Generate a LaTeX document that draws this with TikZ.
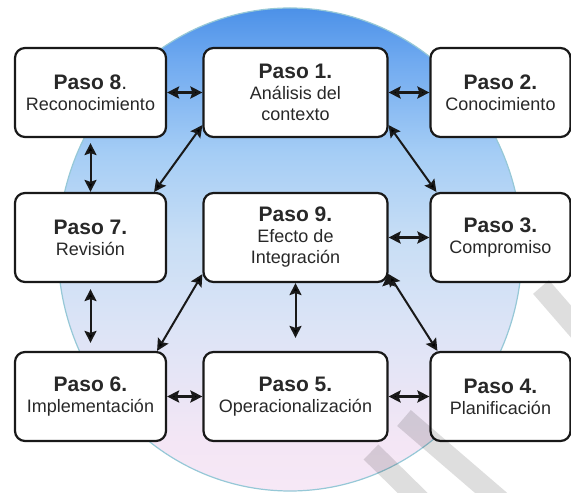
\documentclass[tikz,border=0pt]{standalone}
\usepackage{fontspec}
\setmainfont{Liberation Sans}
\usetikzlibrary{arrows.meta,positioning}

\definecolor{cieloA}{RGB}{76,145,232}
\definecolor{celesteA}{RGB}{112,170,240}
\definecolor{celesteB}{RGB}{165,205,245}
\definecolor{celesteC}{RGB}{200,222,245}
\definecolor{lilaA}{RGB}{220,228,246}
\definecolor{rosaA}{RGB}{244,230,245}
\definecolor{rosaB}{RGB}{246,232,246}
\definecolor{borde}{RGB}{25,25,25}
\definecolor{texto}{RGB}{40,40,40}
\definecolor{aro}{RGB}{150,200,215}

\pgfdeclareverticalshading{esfera}{100bp}{color(0bp)=(rosaB); color(25bp)=(rosaB); color(30bp)=(rosaA); color(42bp)=(lilaA); color(51bp)=(celesteC); color(60bp)=(celesteB); color(69.5bp)=(celesteA); color(75bp)=(cieloA); color(100bp)=(cieloA)}

\newcommand{\titulo}[1]{{\fontsize{21}{25}\selectfont\bfseries #1}}

\begin{document}
\begin{tikzpicture}[x=1pt,y=1pt,>={Stealth[length=12pt,width=12pt,inset=2pt]},node distance=205pt]
  \tikzstyle{paso}=[draw=borde,line width=2.2pt,rounded corners=10pt,fill=white,minimum height=89pt,align=center,text=texto,font=\fontsize{18}{21}\selectfont]
  \tikzstyle{izq}=[paso,minimum width=151pt]
  \tikzstyle{med}=[paso,minimum width=184pt]
  \tikzstyle{der}=[paso,minimum width=140pt]
  \tikzstyle{flecha}=[<->,line width=2pt,draw=borde]
  \tikzstyle{flechag}=[<->,line width=2.8pt,draw=borde]
  \tikzstyle{marca}=[line width=21pt,black,opacity=0.13]

  \useasboundingbox (0,0) rectangle (571,493);

  % fondo
  \shade[shading=esfera] (290,243.5) ellipse [x radius=232,y radius=241.5];
  \draw[line width=1.2pt,aro] (290,243.5) ellipse [x radius=232,y radius=241.5];

  \node[izq] (p8) at (90.5,400.5) {\titulo{Paso 8}{\fontsize{21}{25}\selectfont.}\\Reconocimiento};
  \node[med] (p1) [right of=p8] {\titulo{Paso 1.}\\Análisis del\\contexto};
  \node[der] (p2) [right of=p1] {\titulo{Paso 2.}\\Conocimiento};
  \node[izq] (p7) [node distance=145pt,below of=p8] {\titulo{Paso 7.}\\Revisión};
  \node[med] (p9) [right of=p7] {\titulo{Paso 9.}\\Efecto de\\Integración};
  \node[der] (p3) [right of=p9] {\titulo{Paso 3.}\\Compromiso};
  \node[izq] (p6) [node distance=159pt,below of=p7] {\titulo{Paso 6.}\\Implementación};
  \node[med] (p5) [right of=p6] {\titulo{Paso 5.}\\Operacionalización};
  \node[der] (p4) [right of=p5] {\titulo{Paso 4.}\\Planificación};

  \path[flechag]
  (p8) edge (p1)
  (p1) edge (p2)
  (p9) edge (p3)
  (p6) edge (p5)
  (p5) edge (p4);

  \path[flecha]
  (p8) edge [shorten <=5pt] (p7)
  (p7) edge [shorten <=6pt,shorten >=8pt] (p6)
  (p9) edge [shorten >=13pt] (p5)
  ([yshift=13pt]p1.south west) edge ([xshift=-13pt]p7.north east)
  ([yshift=13pt]p1.south east) edge ([xshift=7pt]p3.north west)
  ([yshift=9pt]p9.south west) edge ([xshift=-10pt]p6.north east)
  ([yshift=9pt]p9.south east) edge ([xshift=8pt]p4.north west);

  % marca de agua
  \draw[marca] (371,41) -- (430,-17);
  \draw[marca] (404,75) -- (540,-42);
  \draw[marca] (541,206) -- (600,138);
\end{tikzpicture}
\end{document}
